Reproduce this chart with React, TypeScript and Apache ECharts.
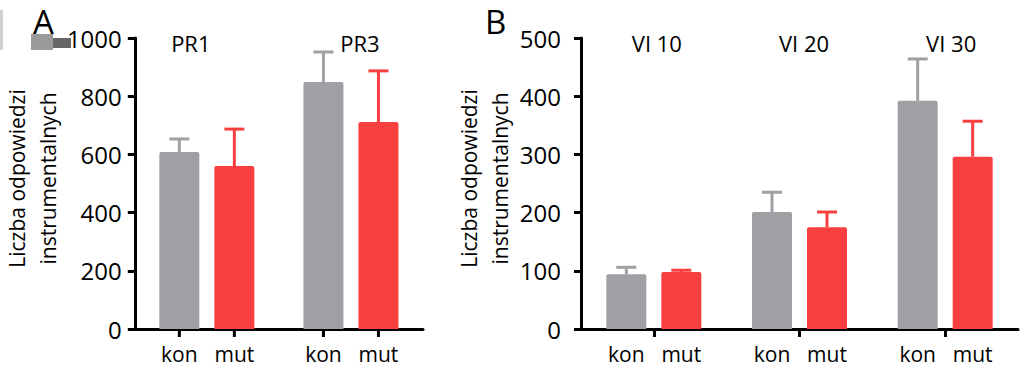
import { useEffect, useRef } from 'react';
import * as echarts from 'echarts';

const groupsA = ['PR1', 'PR3'];
const konA = [608, 849];
const konAErr = [45, 103];
const mutA = [560, 711];
const mutAErr = [127, 176];

const groupsB = ['VI 10', 'VI 20', 'VI 30'];
const konB = [94, 201, 392];
const konBErr = [12, 34, 72];
const mutB = [98, 175, 296];
const mutBErr = [3, 26, 61];

const barNames = ['kon', 'mut'];
const yTitle = 'Liczba odpowiedzi\ninstrumentalnych';
const panelLetters = ['A', 'B'];

const GRAY = '#a0a0a4';
const RED = '#f84040';
const FONT = 'Open Sans';

export default function App() {
  const ref = useRef<HTMLDivElement>(null);
  useEffect(() => {
    document.body.style.margin = '0';
    const chart = echarts.init(ref.current!, null, { renderer: 'svg' });

    const errItem = (color: string, side: number, tick: boolean) => (_p: any, api: any) => {
      const cat = api.value(0);
      const mean = api.value(1);
      const err = api.value(2);
      const base = api.coord([cat, mean]);
      const top = api.coord([cat, mean + err]);
      const zero = api.coord([cat, 0]);
      const x = base[0] + side * 27.5;
      const children: any[] = [
        { type: 'line', shape: { x1: x, y1: base[1], x2: x, y2: top[1] }, style: { stroke: color, lineWidth: 3 } },
        { type: 'line', shape: { x1: x - 10, y1: top[1], x2: x + 10, y2: top[1] }, style: { stroke: color, lineWidth: 3 } },
      ];
      if (tick) {
        children.push({ type: 'line', shape: { x1: x, y1: zero[1] + 1, x2: x, y2: zero[1] + 8 }, style: { stroke: '#000', lineWidth: 3 } });
      }
      return { type: 'group', children };
    };

    const barLabel = (name: string) => ({
      show: true,
      position: ['50%', '100%'],
      align: 'center',
      verticalAlign: 'middle',
      offset: [0, 25],
      formatter: name,
      color: '#000',
      fontSize: 21,
      fontFamily: FONT,
    });

    const yAxisBase = (max: number, interval: number, margin: number, gap: number) => ({
      type: 'value',
      min: 0,
      max,
      interval,
      name: yTitle,
      nameLocation: 'middle',
      nameRotate: 90,
      nameGap: gap,
      nameTextStyle: { fontSize: 21, fontFamily: FONT, color: '#000', lineHeight: 31, padding: [0, 0, 0, 10] },
      axisLine: { show: true, lineStyle: { color: '#000', width: 3 } },
      axisTick: { show: true, length: 7, lineStyle: { color: '#000', width: 3 } },
      axisLabel: { fontSize: 24, fontFamily: FONT, color: '#000', margin, formatter: (v: number) => String(v) },
      splitLine: { show: false },
    });

    const groupShiftA = [[0, 32, 0, 0], [0, 0, 0, 18]];
    const groupShiftB = [[0, 0, 0, 6], [0, 0, 0, 9], [0, 0, 0, 12]];

    const topAxis = (names: string[], shifts: number[][], gridIndex: number) => ({
      type: 'category',
      gridIndex,
      position: 'top',
      data: names.map((n, i) => ({ value: n, textStyle: { padding: shifts[i] } })),
      axisLine: { show: false },
      axisTick: { show: false },
      axisLabel: { fontSize: 22, fontFamily: FONT, color: '#000', margin: -16, interval: 0 },
    });

    chart.setOption({
      animation: false,
      grid: [
        { left: 133, top: 38, width: 290, height: 291 },
        { left: 581, top: 38, width: 437, height: 291 },
      ],
      xAxis: [
        {
          type: 'category',
          gridIndex: 0,
          data: groupsA,
          axisLine: { show: true, lineStyle: { color: '#000', width: 3 } },
          axisTick: { show: false },
          axisLabel: { show: false },
        },
        {
          type: 'category',
          gridIndex: 1,
          data: groupsB,
          axisLine: { show: true, lineStyle: { color: '#000', width: 3 } },
          axisTick: { show: true, alignWithLabel: true, interval: 0, length: 8, lineStyle: { color: '#000', width: 3 } },
          axisLabel: { show: false },
        },
        topAxis(groupsA, groupShiftA, 0),
        topAxis(groupsB, groupShiftB, 1),
      ],
      yAxis: [
        { ...yAxisBase(1000, 200, 13, 66), gridIndex: 0 },
        { ...yAxisBase(500, 100, 20, 63), gridIndex: 1 },
      ],
      series: [
        { type: 'bar', name: barNames[0], xAxisIndex: 0, yAxisIndex: 0, data: konA, barWidth: 40, barGap: '37.5%', itemStyle: { color: GRAY, borderRadius: [2, 2, 0, 0] }, label: barLabel(barNames[0]) },
        { type: 'bar', name: barNames[1], xAxisIndex: 0, yAxisIndex: 0, data: mutA, barWidth: 40, barGap: '37.5%', itemStyle: { color: RED, borderRadius: [2, 2, 0, 0] }, label: barLabel(barNames[1]) },
        { type: 'bar', name: barNames[0], xAxisIndex: 1, yAxisIndex: 1, data: konB, barWidth: 40, barGap: '37.5%', itemStyle: { color: GRAY, borderRadius: [2, 2, 0, 0] }, label: barLabel(barNames[0]) },
        { type: 'bar', name: barNames[1], xAxisIndex: 1, yAxisIndex: 1, data: mutB, barWidth: 40, barGap: '37.5%', itemStyle: { color: RED, borderRadius: [2, 2, 0, 0] }, label: barLabel(barNames[1]) },
        { type: 'custom', xAxisIndex: 0, yAxisIndex: 0, z: 5, renderItem: errItem(GRAY, -1, true), data: konA.map((v, i) => [i, v, konAErr[i]]), encode: { x: 0, y: 1 } },
        { type: 'custom', xAxisIndex: 0, yAxisIndex: 0, z: 5, renderItem: errItem(RED, 1, true), data: mutA.map((v, i) => [i, v, mutAErr[i]]), encode: { x: 0, y: 1 } },
        { type: 'custom', xAxisIndex: 1, yAxisIndex: 1, z: 5, renderItem: errItem(GRAY, -1, false), data: konB.map((v, i) => [i, v, konBErr[i]]), encode: { x: 0, y: 1 } },
        { type: 'custom', xAxisIndex: 1, yAxisIndex: 1, z: 5, renderItem: errItem(RED, 1, false), data: mutB.map((v, i) => [i, v, mutBErr[i]]), encode: { x: 0, y: 1 } },
      ],
      graphic: [
        { type: 'rect', left: 0, top: 10, shape: { width: 3, height: 40 }, style: { fill: '#d0d0d0' } },
        { type: 'rect', left: 31, top: 34, shape: { width: 22, height: 16 }, style: { fill: '#9a9a9a' } },
        { type: 'rect', left: 53, top: 38, shape: { width: 18, height: 10 }, style: { fill: '#666' } },
        { type: 'text', left: 33, top: 5, z: 10, style: { text: panelLetters[0], fontSize: 33, fontFamily: FONT, fill: '#000' } },
        { type: 'text', left: 485, top: 5, style: { text: panelLetters[1], fontSize: 33, fontFamily: FONT, fill: '#000' } },
      ],
    });
    return () => chart.dispose();
  }, []);
  return <div ref={ref} style={{ position: 'fixed', left: 0, top: 0, width: 1024, height: 370, background: '#fff' }} />;
}
